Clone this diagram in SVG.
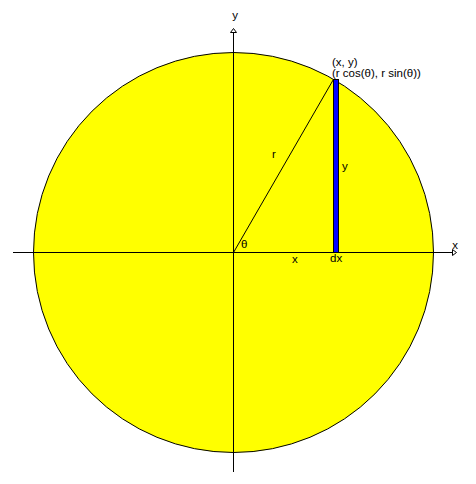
<svg xmlns="http://www.w3.org/2000/svg" width="476" height="484" viewBox="0 0 476 484">
<style>
.ax{stroke:#000;stroke-width:1;fill:none}
.ah{fill:#fff;stroke:#000;stroke-width:1}
text{font-family:"Liberation Sans",Arial,sans-serif;font-size:11.5px;fill:#000}
</style>
<rect width="476" height="484" fill="#fff"/>
<g id="circle">
<circle cx="233.5" cy="252.5" r="200" fill="#ffff00" stroke="#000" stroke-width="1"/>
</g>
<g id="connectors">
<line class="ax" x1="13" y1="252.5" x2="453" y2="252.5"/>
<polygon class="ah" points="452.5,249.5 456.5,252.5 452.5,255.5"/>
<line class="ax" x1="233.5" y1="472" x2="233.5" y2="32"/>
<polygon class="ah" points="230.5,32.5 233.5,28.5 236.5,32.5"/>
<line class="ax" x1="233.5" y1="252.5" x2="333.5" y2="79.3"/>
</g>
<g id="bar">
<rect x="333.5" y="79.5" width="5" height="173" fill="#0000ff" stroke="#000" stroke-width="1"/>
</g>
<g id="labels">
<text x="235" y="19" text-anchor="middle">y</text>
<text x="455" y="249" text-anchor="middle">x</text>
<text x="332" y="66">(x, y)</text>
<text x="332" y="77">(r cos(θ), r sin(θ))</text>
<text x="241" y="248">θ</text>
<text x="292" y="263">x</text>
<text x="330" y="262">dx</text>
<text x="272" y="158">r</text>
<text x="342" y="170">y</text>
</g>
</svg>
